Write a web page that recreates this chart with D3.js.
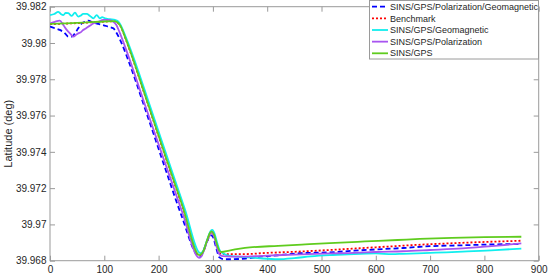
<!DOCTYPE html>
<html>
<head>
<meta charset="utf-8">
<script src="https://cdn.jsdelivr.net/npm/d3@7"></script>
<style>
  body { margin: 0; background: #fff; }
  text { font-family: "Liberation Sans", Arial, sans-serif; fill: #262626; }
</style>
</head>
<body>
<svg width="550" height="279"></svg>
<script>
'use strict';

// [time (s), latitude (deg)]
const polGeo = [
  [0, 39.98090], [9, 39.98081], [18, 39.98072], [27.6, 39.98053], [33.7, 39.98035], [40, 39.98035],
  [46, 39.98053], [52, 39.98081], [58.4, 39.98108], [64.5, 39.98117], [70.5, 39.98123], [79.7, 39.98112],
  [89, 39.98105], [98, 39.98099], [107, 39.98090], [116.6, 39.98081], [122, 39.98058], [132, 39.97998],
  [145, 39.97898], [178, 39.97612], [210, 39.97328], [242, 39.97050], [272, 39.96828], [275, 39.96822],
  [279, 39.96832], [284, 39.96865], [290, 39.96910], [295, 39.96938], [298, 39.96940], [302, 39.96915],
  [307, 39.96860], [312, 39.96818], [320, 39.96808], [331, 39.96808], [360, 39.96812], [387, 39.96822],
  [420, 39.96830], [460, 39.96841], [515, 39.96846], [560, 39.96855], [600, 39.96862], [650, 39.96870],
  [700, 39.96880], [760, 39.96885], [820, 39.96890], [868, 39.96892]
];

const benchmark = [
  [0, 39.98104], [30, 39.98107], [60, 39.98111], [90, 39.98116], [117, 39.98120], [124, 39.98113],
  [130, 39.98092], [138, 39.98033], [147, 39.97959], [180, 39.97666], [215, 39.97352], [245, 39.97089],
  [275, 39.96829], [282, 39.96848], [289, 39.96905], [295, 39.96948], [298, 39.96955], [302, 39.96938],
  [307, 39.96888], [312, 39.96845], [316, 39.96836], [340, 39.96836], [368, 39.96837], [387, 39.96841],
  [450, 39.96849], [515, 39.96859], [600, 39.96874], [700, 39.96891], [780, 39.96901], [868, 39.96910]
];

const geo = [
  [0, 39.98154], [8, 39.98160], [15, 39.98172], [20, 39.98160], [24.5, 39.98154], [29, 39.98166],
  [33.7, 39.98164], [40, 39.98149], [46, 39.98167], [52, 39.98145], [57, 39.98152], [61, 39.98160],
  [67.6, 39.98160], [73.7, 39.98149], [79.7, 39.98136], [86, 39.98154], [92, 39.98136], [96, 39.98142],
  [101, 39.98136], [110, 39.98131], [119.7, 39.98127], [125, 39.98120], [130, 39.98100], [137, 39.98052],
  [150, 39.97952], [185, 39.97645], [218, 39.97352], [248, 39.97088], [277, 39.96842], [283, 39.96860],
  [290, 39.96920], [296, 39.96965], [299, 39.96970], [303, 39.96950], [308, 39.96898], [313, 39.96855],
  [320, 39.96838], [331, 39.96826], [360, 39.96820], [387, 39.96813], [420, 39.96808], [450, 39.96814],
  [480, 39.96824], [515, 39.96831], [540, 39.96834], [560, 39.96837], [600, 39.96840], [630, 39.96836],
  [650, 39.96838], [700, 39.96843], [730, 39.96846], [760, 39.96850], [820, 39.96858], [868, 39.96867]
];

const pol = [
  [0, 39.98108], [9, 39.98117], [18, 39.98123], [24.5, 39.98099], [30.8, 39.98072], [36.8, 39.98053],
  [43, 39.98035], [48, 39.98045], [52, 39.98053], [57, 39.98060], [61, 39.98072], [66, 39.98080],
  [70.5, 39.98090], [75, 39.98098], [79.7, 39.98108], [89, 39.98117], [98, 39.98127], [107, 39.98127],
  [116.6, 39.98117], [122, 39.98100], [128, 39.98060], [140, 39.97965], [175, 39.97658], [212, 39.97338],
  [245, 39.97055], [272, 39.96820], [275, 39.96816], [279, 39.96825], [284, 39.96860], [290, 39.96915],
  [296, 39.96955], [298, 39.96958], [302, 39.96935], [307, 39.96875], [312, 39.96835], [318, 39.96825],
  [350, 39.96822], [400, 39.96828], [450, 39.96834], [515, 39.96840], [560, 39.96843], [600, 39.96848],
  [650, 39.96852], [700, 39.96859], [760, 39.96868], [820, 39.96882], [868, 39.96895]
];

const gps = [
  [0, 39.98105], [30, 39.98108], [60, 39.98112], [90, 39.98117], [117, 39.98121], [124, 39.98114],
  [130, 39.98093], [138, 39.98035], [147, 39.97961], [180, 39.97668], [215, 39.97355], [245, 39.97092],
  [275, 39.96831], [282, 39.96850], [289, 39.96910], [295, 39.96955], [298, 39.96962], [302, 39.96945],
  [307, 39.96895], [312, 39.96855], [316, 39.96848], [330, 39.96856], [350, 39.96866], [368, 39.96873],
  [420, 39.96882], [470, 39.96890], [515, 39.96897], [580, 39.96906], [640, 39.96914], [681, 39.96920],
  [740, 39.96926], [800, 39.96930], [868, 39.96932]
];

const seriesNames = ['SINS/GPS/Polarization/Geomagnetic', 'Benchmark', 'SINS/GPS/Geomagnetic',
  'SINS/GPS/Polarization', 'SINS/GPS'];
const xTicks = [0, 100, 200, 300, 400, 500, 600, 700, 800, 900];
const yTicks = [39.968, 39.970, 39.972, 39.974, 39.976, 39.978, 39.980, 39.982];

const series = [
  { name: seriesNames[0], data: polGeo, color: '#0000ff', dash: '5,3' },
  { name: seriesNames[1], data: benchmark, color: '#ff0000', dash: '2,2' },
  { name: seriesNames[2], data: geo, color: '#11eeee', dash: null },
  { name: seriesNames[3], data: pol, color: '#a855f0', dash: null },
  { name: seriesNames[4], data: gps, color: '#5fcc1e', dash: null }
];

const svg = d3.select('svg');
const pLeft = 50, pRight = 538.7, pTop = 6.7, pBottom = 260.7;
const axisCol = '#9a9a9a';

const x = d3.scaleLinear().domain([0, 900]).range([pLeft, pRight]);
const y = d3.scaleLinear().domain([39.968, 39.982]).range([pBottom, pTop]);

const fmt = d => String(+d.toFixed(3));

// box
svg.append('rect')
    .attr('x', pLeft).attr('y', pTop)
    .attr('width', pRight - pLeft).attr('height', pBottom - pTop)
    .attr('fill', 'none').attr('stroke', axisCol).attr('stroke-width', 1);

// ticks on all four sides, pointing inward
const tl = 5;
svg.append('g').attr('transform', `translate(0,${pBottom})`)
    .call(d3.axisBottom(x).tickValues(xTicks).tickSizeInner(-tl).tickSizeOuter(0).tickPadding(5).tickFormat(fmt))
    .call(g => g.select('.domain').remove());
svg.append('g').attr('transform', `translate(0,${pTop})`)
    .call(d3.axisTop(x).tickValues(xTicks).tickSizeInner(-tl).tickSizeOuter(0).tickFormat(''))
    .call(g => g.select('.domain').remove());
svg.append('g').attr('transform', `translate(${pLeft},0)`)
    .call(d3.axisLeft(y).tickValues(yTicks).tickSizeInner(-tl).tickSizeOuter(0).tickPadding(3.5).tickFormat(fmt))
    .call(g => g.select('.domain').remove());
svg.append('g').attr('transform', `translate(${pRight},0)`)
    .call(d3.axisRight(y).tickValues(yTicks).tickSizeInner(-tl).tickSizeOuter(0).tickFormat(''))
    .call(g => g.select('.domain').remove());

svg.selectAll('.tick line').attr('stroke', axisCol);
svg.selectAll('.tick text')
    .attr('font-size', 10)
    .attr('font-family', '"Liberation Sans", Arial, sans-serif')
    .attr('fill', '#262626');

svg.append('text')
    .attr('transform', `translate(12,${(pTop + pBottom) / 2}) rotate(-90)`)
    .attr('text-anchor', 'middle')
    .attr('font-size', 11)
    .text('Latitude (deg)');

const line = d3.line()
    .x(d => x(d[0]))
    .y(d => y(d[1]))
    .curve(d3.curveMonotoneX);

svg.append('defs').append('clipPath').attr('id', 'clip')
  .append('rect').attr('x', pLeft).attr('y', pTop).attr('width', pRight - pLeft).attr('height', pBottom - pTop);

svg.append('g').attr('clip-path', 'url(#clip)')
  .selectAll('path')
  .data(series)
  .enter()
  .append('path')
    .attr('d', d => line(d.data))
    .attr('fill', 'none')
    .attr('stroke', d => d.color)
    .attr('stroke-width', 1.8)
    .attr('stroke-dasharray', d => d.dash);

// legend
const lg = svg.append('g');
lg.append('rect')
    .attr('x', 369.5).attr('y', 0.5).attr('width', 169).attr('height', 58.5)
    .attr('fill', '#fff').attr('stroke', axisCol).attr('stroke-width', 1);

const rows = lg.selectAll('.row')
    .data(series)
    .enter()
    .append('g')
        .attr('class', 'row')
        .attr('transform', (d, i) => `translate(0, ${6.7 + i * 11.65})`);

rows.append('line')
    .attr('x1', 372).attr('x2', 388)
    .attr('stroke', d => d.color)
    .attr('stroke-width', 1.8)
    .attr('stroke-dasharray', d => d.dash);

rows.append('text')
    .attr('x', 390)
    .attr('dy', '0.35em')
    .attr('font-size', 9)
    .text(d => d.name);
</script>
</body>
</html>
